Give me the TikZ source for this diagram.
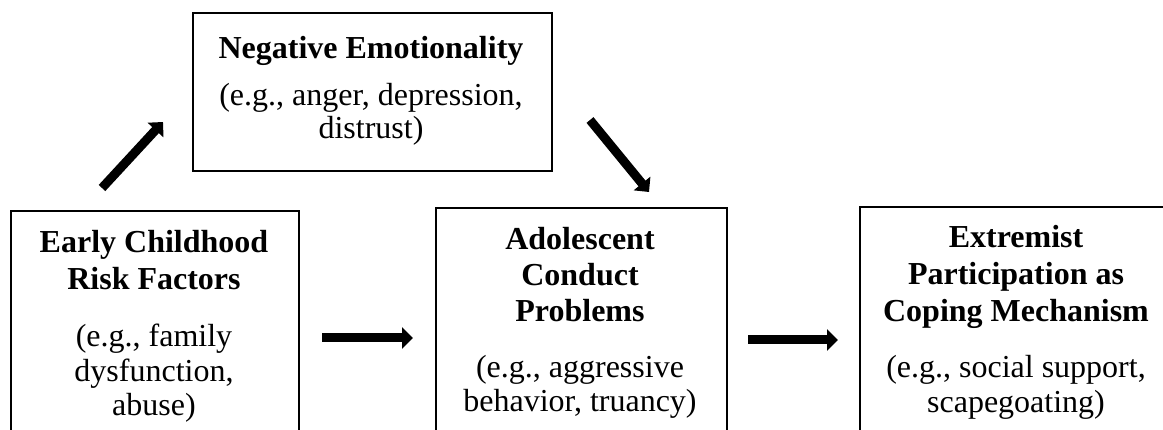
\documentclass[tikz,border=0pt]{standalone}
\usepackage{fontspec}
\setmainfont{Liberation Serif}
\usetikzlibrary{arrows.meta}
\begin{document}
\begin{tikzpicture}[x=1pt,y=-1pt,
  box/.style={draw, line width=2pt, inner sep=0pt, anchor=north west},
  ttl/.style={font=\fontsize{32}{37}\selectfont\bfseries, anchor=base, inner sep=0pt},
  dtl/.style={font=\fontsize{32}{37}\selectfont, anchor=base, inner sep=0pt},
  flow/.style={line width=9pt, -{Triangle[length=11pt,width=21pt]}}]
\useasboundingbox (0,0) rectangle (1163,430);
\clip (0,0) rectangle (1163,430);
% boxes
\node[box, minimum width=288pt, minimum height=240pt] (ecr) at (10,210) {};
\node[box, minimum width=359pt, minimum height=158pt] (neg) at (192,12) {};
\node[box, minimum width=291pt, minimum height=240pt] (acp) at (435,207) {};
\node[box, minimum width=320pt, minimum height=240pt] (ext) at (859,206) {};
% texts: Early Childhood
\node[ttl] (ecrA) at (154,253) {Early Childhood};
\node[ttl] (ecrB) at (154,290) {Risk Factors};
\node[dtl] (ecrC) at (154,347) {(e.g., family};
\node[dtl] (ecrD) at (154,382) {dysfunction,};
\node[dtl] (ecrE) at (154,416) {abuse)};
% Negative Emotionality
\node[ttl] (negA) at (371,59) {Negative Emotionality};
\node[dtl] (negB) at (371,106) {(e.g., anger, depression,};
\node[dtl] (negC) at (371,139) {distrust)};
% Adolescent
\node[ttl] (acpA) at (580,250) {Adolescent};
\node[ttl] (acpB) at (580,286) {Conduct};
\node[ttl] (acpC) at (580,322) {Problems};
\node[dtl] (acpD) at (580,378) {(e.g., aggressive};
\node[dtl] (acpE) at (580,412) {behavior, truancy)};
% Extremist
\node[ttl] (extA) at (1016,248) {Extremist};
\node[ttl] (extB) at (1016,285) {Participation as};
\node[ttl] (extC) at (1016,322) {Coping Mechanism};
\node[dtl] (extD) at (1016,378) {(e.g., social support,};
\node[dtl] (extE) at (1016,413) {scapegoating)};
% arrow ends
\coordinate (a1s) at (102,188);
\coordinate (a1e) at (163,122);
\coordinate (a2s) at (590,120);
\coordinate (a2e) at (649,192);
\coordinate (a3s) at (322,338);
\coordinate (a3e) at (413,338);
\coordinate (a4s) at (748,340);
\coordinate (a4e) at (838,340);
\draw[flow] (a1s) -- (a1e);
\draw[flow] (a2s) -- (a2e);
\draw[flow] (a3s) -- (a3e);
\draw[flow] (a4s) -- (a4e);
\end{tikzpicture}
\end{document}
